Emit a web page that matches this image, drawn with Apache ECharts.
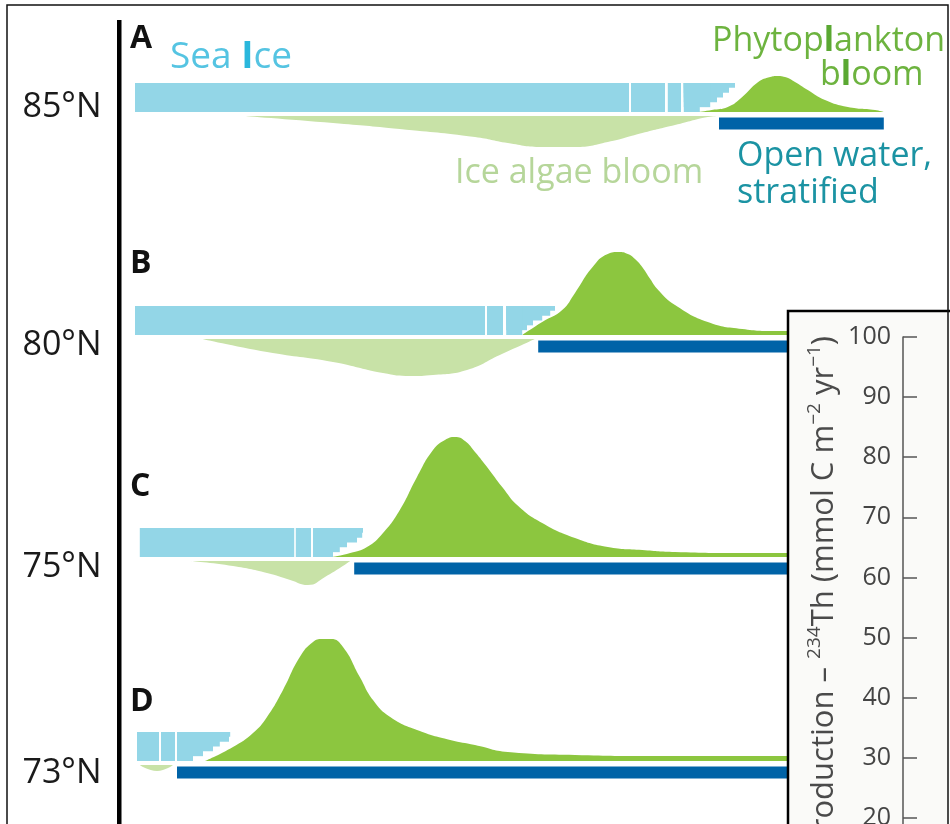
<!DOCTYPE html>
<html><head><meta charset="utf-8">
<script src="https://cdn.jsdelivr.net/npm/echarts@6/dist/echarts.min.js"></script>
<style>html,body{margin:0;padding:0;background:#fff}#c{width:950px;height:824px}</style>
</head><body><div id="c"></div>
<script>
// ================= DATA (x = relative seasonal time 0-100, y = relative magnitude) =================
const panelLetters = ['A', 'B', 'C', 'D'];
const latitudes = ['85°N', '80°N', '75°N', '73°N'];

// sea-ice floes, full thickness: [start, end]
const iceFloesA = [[0, 61.75], [62, 66.25], [66.6, 68.25]];
const iceFloesB = [[0, 43.75], [44, 46]];
const iceFloesC = [[0.6, 19.9], [20.1, 22]];
const iceFloesD = [[0.25, 3], [3.25, 5]];
// melting ice edge: start, then the end of each layer from top to bottom
const iceEdgeStart = [68.6, 46.4, 22.25, 5.25];
const iceEdgeRowsA = [75, 74.25, 73.5, 72.75, 71.9, 70.6];
const iceEdgeRowsB = [52.5, 51.9, 50.9, 49.75, 49, 48.4];
const iceEdgeRowsC = [28.5, 28.4, 27.75, 26.5, 25.6, 24.75];
const iceEdgeRowsD = [11.9, 11.75, 10.6, 9.75, 8.5, 7.25];

// open, stratified water: [start, end]
const openWaterA = [73, 93.6];
const openWaterB = [50.4, 84];
const openWaterC = [27.4, 84];
const openWaterD = [5.25, 84];

// phytoplankton bloom: [time, magnitude]
const bloomA = [[70.4,0],[72.1,2],[74.1,5],[75.9,15],[77.9,30],[79.4,35],[80.25,36],[81.25,35],[82.5,30],[84.1,22],[86.25,12],[89.1,5],[92.5,2],[93.6,0]];
const bloomB = [[48.4,0],[50.9,13],[53.4,25],[55,42],[57.1,67],[59.1,81],[60.5,83],[61.6,81],[62.5,76],[63.4,68],[64.4,56],[65.4,45],[67.5,30],[71.6,13],[75.9,6],[80,4],[84,4]];
const bloomC = [[24.6,0],[26.9,4],[29,10],[31,24],[33.1,47],[35.25,80],[37.25,107],[38.75,117],[40,120],[41.25,116],[42.5,105],[44.1,89],[45.9,70],[47.9,51],[50.9,34],[55,19],[59.1,10],[63.4,7],[67.5,5],[75.9,4],[84,4]];
const bloomD = [[8.75,0],[12.25,14],[14.75,28],[16.5,44],[18.5,71],[20.6,104],[22.25,119],[23.4,122],[24.5,122],[26,114],[28.1,84],[29.75,61],[31.9,44],[35.25,31],[39.4,21],[42.5,16],[46.6,9],[55,6],[64.9,5],[84,5]];

// ice-algae bloom (below the ice): [time, -magnitude]
const algaeA = [[13.5,0],[24.75,-7],[33.1,-13],[42.5,-21],[46.6,-27],[50.9,-31],[55,-31],[59.1,-26],[63.4,-17],[67.5,-9],[71.6,-1],[72.9,0]];
const algaeB = [[8.4,0],[16.5,-13],[24.75,-23],[31,-34],[34.4,-37],[37.25,-36],[41.5,-31],[45.6,-16],[50,0]];
const algaeC = [[6.9,0],[12.25,-5],[16.5,-12],[19.4,-19],[21.6,-24],[23.75,-16],[26.9,0]];
const algaeD = [[0.6,0],[2.75,-6],[4.75,0]];

// inset axis
const insetMin = 0, insetMax = 100, insetStep = 10;
const insetAxisName = '{n|Production – }{s|234}{n|Th (mmol C m}{s|−2}{n| yr}{s|−1}{n|)}';

const iceFloes = [iceFloesA, iceFloesB, iceFloesC, iceFloesD];
const iceEdgeRows = [iceEdgeRowsA, iceEdgeRowsB, iceEdgeRowsC, iceEdgeRowsD];
const openWater = [openWaterA, openWaterB, openWaterC, openWaterD];
const blooms = [bloomA, bloomB, bloomC, bloomD];
const algae = [algaeA, algaeB, algaeC, algaeD];

// ================= LAYOUT & STYLE =================
const FONT = "'Open Sans', 'DejaVu Sans', sans-serif";
const BASE_Y = [112, 335, 557, 761];      // panel baselines (px)
const LETTER_Y = [39, 264, 487, 702];
const LAT_Y = [107, 345, 567, 773];
const GRID_LEFT = 135, GRID_W = 800;
const ICE_H = 29, ICE_ROWS = 6;
const OW_OFF = 5.5, OW_H = 12;
const ICE_COLOR = '#93d6e7', BLOOM_COLOR = '#8cc63f', ALGAE_COLOR = '#c8e2a7', OW_COLOR = '#0063a7';
const SMOOTH = 0.5;

const grids = [], xAxes = [], yAxes = [], series = [];
BASE_Y.forEach((b, i) => {
  grids.push({left: GRID_LEFT, width: GRID_W, top: b - 140, height: 200, containLabel: false, outerBoundsMode: 'none'});
  xAxes.push({gridIndex: i, type: 'value', min: 0, max: 100, show: false});
  yAxes.push({gridIndex: i, type: 'value', min: -60, max: 140, show: false});
  yAxes.push({gridIndex: i, type: 'value', min: -56, max: 144, show: false});

  series.push({
    type: 'line', xAxisIndex: i, yAxisIndex: 2 * i, data: blooms[i],
    smooth: SMOOTH, symbol: 'none', silent: true,
    lineStyle: {width: 0}, areaStyle: {color: BLOOM_COLOR, opacity: 1}, z: 2
  });
  series.push({
    type: 'line', xAxisIndex: i, yAxisIndex: 2 * i + 1, data: algae[i],
    smooth: SMOOTH, symbol: 'none', silent: true,
    lineStyle: {width: 0}, areaStyle: {color: ALGAE_COLOR, opacity: 1}, z: 2
  });
  const iceData = iceFloes[i].map(f => [f[0], f[1], ICE_ROWS]);
  iceEdgeRows[i].forEach((e, r) => iceData.push([iceEdgeStart[i], e, r + 1]));
  series.push({
    type: 'custom', xAxisIndex: i, yAxisIndex: 2 * i, data: iceData, silent: true, z: 3,
    renderItem: (params, api) => {
      const p0 = api.coord([api.value(0), 0]);
      const p1 = api.coord([api.value(1), 0]);
      const rowH = ICE_H / ICE_ROWS;
      return {type: 'rect', shape: {x: p0[0], y: p0[1] - ICE_H,
        width: p1[0] - p0[0], height: api.value(2) * rowH}, style: {fill: ICE_COLOR}};
    }
  });
  series.push({
    type: 'custom', xAxisIndex: i, yAxisIndex: 2 * i, data: [openWater[i]], silent: true, z: 3,
    renderItem: (params, api) => {
      const p0 = api.coord([api.value(0), 0]);
      const p1 = api.coord([api.value(1), 0]);
      return {type: 'rect', shape: {x: p0[0], y: p0[1] + OW_OFF, width: p1[0] - p0[0], height: OW_H},
        style: {fill: OW_COLOR}};
    }
  });
});

// inset grid
grids.push({left: 903, top: 337, width: 200, height: 601, containLabel: false, outerBoundsMode: 'none'});
xAxes.push({gridIndex: 4, type: 'value', position: 'top', min: 0, max: 1, z: 60,
  axisLine: {show: true, lineStyle: {color: '#555', width: 1.5}},
  axisTick: {show: false}, axisLabel: {show: false}, splitLine: {show: false}});
yAxes.push({gridIndex: 4, type: 'value', min: insetMin, max: insetMax, interval: insetStep, z: 60,
  axisLine: {show: true, lineStyle: {color: '#555', width: 1.5}},
  axisTick: {show: true, inside: true, length: 14, lineStyle: {color: '#555', width: 1.5}},
  axisLabel: {color: '#444', fontSize: 25, fontFamily: FONT, margin: 12},
  splitLine: {show: false}});
series.push({type: 'line', xAxisIndex: 4, yAxisIndex: 8, data: []});

const graphics = [];
graphics.push({type: 'rect', z: 5, shape: {x: 117, y: 20, width: 4.5, height: 820}, style: {fill: '#000'}});
latitudes.forEach((t, i) => graphics.push({type: 'text', z: 5, x: 62, y: LAT_Y[i],
  style: {text: t, font: '34px ' + FONT, fill: '#1a1a1a', align: 'center', verticalAlign: 'middle'}}));
panelLetters.forEach((t, i) => graphics.push({type: 'text', z: 5, x: 130, y: LETTER_Y[i],
  style: {text: t, font: 'bold 32px ' + FONT, fill: '#111', align: 'left', verticalAlign: 'middle'}}));
graphics.push({type: 'text', z: 5, x: 170, y: 57, style: {
  text: '{a|Sea }{b|I}{a|ce}', align: 'left', verticalAlign: 'middle',
  rich: {a: {fontSize: 37, fontFamily: FONT, fill: '#55c4e2'}, b: {fontSize: 37, fontFamily: FONT, fontWeight: 'bold', fill: '#2ab7dc'}}}});
graphics.push({type: 'text', z: 5, x: 455, y: 173, style: {
  text: 'Ice algae bloom', font: '34px ' + FONT, fill: '#b6d69a', align: 'left', verticalAlign: 'middle'}});
graphics.push({type: 'text', z: 5, x: 737, y: 174.5, style: {
  text: 'Open water,\nstratified', font: '34px ' + FONT, fill: '#1b93a3', lineHeight: 37, align: 'left', verticalAlign: 'middle'}});
const phyRich = {a: {fontSize: 34, fontFamily: FONT, fill: '#6db33f'}, b: {fontSize: 34, fontFamily: FONT, fontWeight: 'bold', fill: '#5aa832'}};
graphics.push({type: 'text', z: 5, x: 712, y: 41, style: {text: '{a|Phytop}{b|l}{a|ankton}', rich: phyRich, align: 'left', verticalAlign: 'middle'}});
graphics.push({type: 'text', z: 5, x: 820, y: 75, style: {text: '{a|b}{b|l}{a|oom}', rich: phyRich, align: 'left', verticalAlign: 'middle'}});
// inset panel
graphics.push({type: 'rect', z: 50, shape: {x: 788, y: 311, width: 220, height: 600},
  style: {fill: '#fafaf8', stroke: '#000', lineWidth: 2.5}});
graphics.push({type: 'text', z: 61, x: 824, y: 336, rotation: Math.PI / 2, style: {
  text: insetAxisName, align: 'right', verticalAlign: 'middle',
  rich: {n: {fontSize: 31, fontFamily: FONT, fill: '#4a4a4a', lineHeight: 38},
         s: {fontSize: 19, fontFamily: FONT, fill: '#4a4a4a', lineHeight: 38, verticalAlign: 'top'}}}});
// outer frame
graphics.push({type: 'rect', z: 70, shape: {x: 7, y: 5, width: 941, height: 840},
  style: {fill: 'none', stroke: '#111', lineWidth: 1.5}});

const chart = echarts.init(document.getElementById('c'), null, {renderer: 'canvas'});
chart.setOption({
  animation: false,
  backgroundColor: '#fff',
  grid: grids, xAxis: xAxes, yAxis: yAxes, series: series,
  graphic: {elements: graphics}
});
</script></body></html>
